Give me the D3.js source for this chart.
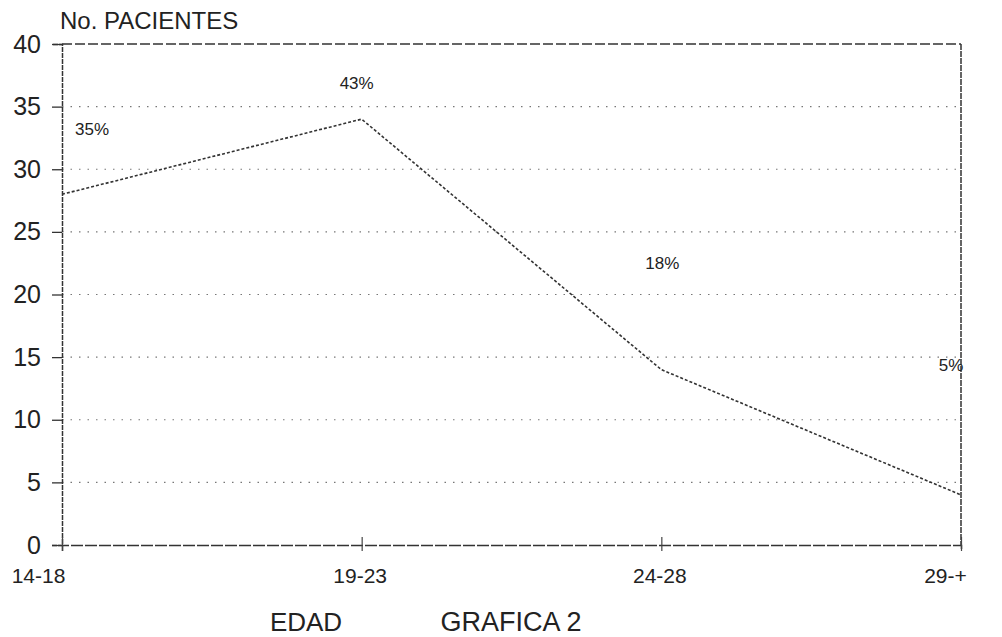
<!DOCTYPE html>
<html>
<head>
<meta charset="utf-8">
<script src="https://cdn.jsdelivr.net/npm/d3@7"></script>
<style>
  body { margin: 0; background: #fff; }
  svg text { font-family: "Liberation Sans", Arial, sans-serif; fill: #222; }
</style>
</head>
<body>
<svg width="1002" height="637"></svg>
<script>
// data
var categories = ["14-18", "19-23", "24-28", "29-+"];
var pacientes = [28, 34, 14, 4];
var percentLabels = ["35%", "43%", "18%", "5%"];
var yTicks = [0, 5, 10, 15, 20, 25, 30, 35, 40];

var svg = d3.select("svg"),
  margin = {top: 44, right: 41, bottom: 92, left: 62},
  width = +svg.attr("width") - margin.left - margin.right,
  height = +svg.attr("height") - margin.top - margin.bottom;

var x = d3.scalePoint().domain(categories).range([0, width]),
  y = d3.scaleLinear().domain([0, 40]).range([height, 0]);

var g = svg.append("g")
  .attr("transform", "translate(" + margin.left + "," + margin.top + ")");

// dotted grid lines
g.selectAll(".grid")
  .data(yTicks.filter(function(d) { return d > 0 && d < 40; }))
  .enter().append("line")
  .attr("x1", 0).attr("x2", width)
  .attr("y1", function(d) { return y(d); })
  .attr("y2", function(d) { return y(d); })
  .attr("stroke", "#777")
  .attr("stroke-width", 1.2)
  .attr("stroke-dasharray", "1.5,7");

// frame: top dashed, right solid-ish
g.append("line")
  .attr("x1", 0).attr("x2", width).attr("y1", 0).attr("y2", 0)
  .attr("stroke", "#333").attr("stroke-width", 1.5)
  .attr("stroke-dasharray", "10,3");
g.append("line")
  .attr("x1", width).attr("x2", width).attr("y1", 0).attr("y2", height)
  .attr("stroke", "#333").attr("stroke-width", 1.5)
  .attr("stroke-dasharray", "6,1");

// y axis
var yAxis = g.append("g")
  .call(d3.axisLeft(y).tickValues(yTicks).tickSize(10).tickPadding(11));
yAxis.select(".domain").attr("stroke", "#333").attr("stroke-width", 1.5)
  .attr("stroke-dasharray", "5,1");
yAxis.selectAll(".tick line").attr("stroke", "#333").attr("stroke-width", 1.3);
yAxis.selectAll(".tick text")
  .style("font-size", "25px").attr("fill", "#222");

// x axis
var xAxis = g.append("g")
  .attr("transform", "translate(0," + height + ")")
  .call(d3.axisBottom(x).tickSize(6).tickPadding(17));
xAxis.select(".domain").attr("stroke", "#333").attr("stroke-width", 1.5)
  .attr("stroke-dasharray", "12,2");
xAxis.selectAll(".tick line")
  .attr("y1", -8).attr("y2", 6)
  .attr("stroke", "#444").attr("stroke-width", 1.2);
xAxis.selectAll(".tick text")
  .style("font-size", "21px").attr("fill", "#222")
  .attr("dx", function(d, i) { return i === 0 ? -24 : (i === categories.length - 1 ? -16 : -2); });

// data line
var line = d3.line()
  .x(function(d, i) { return x(categories[i]); })
  .y(function(d) { return y(d); });

g.append("path")
  .datum(pacientes)
  .attr("fill", "none")
  .attr("stroke", "#333")
  .attr("stroke-width", 1.6)
  .attr("stroke-dasharray", "3,2")
  .attr("d", line);

// percentage labels
var labelOffsets = [[30, -59], [-5, -30], [1, -101], [-10, -124]];
g.selectAll(".pct")
  .data(pacientes)
  .enter().append("text")
  .attr("class", "pct")
  .attr("x", function(d, i) { return x(categories[i]) + labelOffsets[i][0]; })
  .attr("y", function(d, i) { return y(d) + labelOffsets[i][1]; })
  .attr("text-anchor", "middle")
  .style("font-size", "17px")
  .text(function(d, i) { return percentLabels[i]; });

// titles
svg.append("text")
  .attr("x", 60).attr("y", 29)
  .style("font-size", "24px")
  .text("No. PACIENTES");

svg.append("text")
  .attr("x", 306).attr("y", 631)
  .attr("text-anchor", "middle")
  .style("font-size", "26px")
  .text("EDAD");

svg.append("text")
  .attr("x", 511).attr("y", 631)
  .attr("text-anchor", "middle")
  .style("font-size", "27px")
  .text("GRAFICA 2");
</script>
</body>
</html>
